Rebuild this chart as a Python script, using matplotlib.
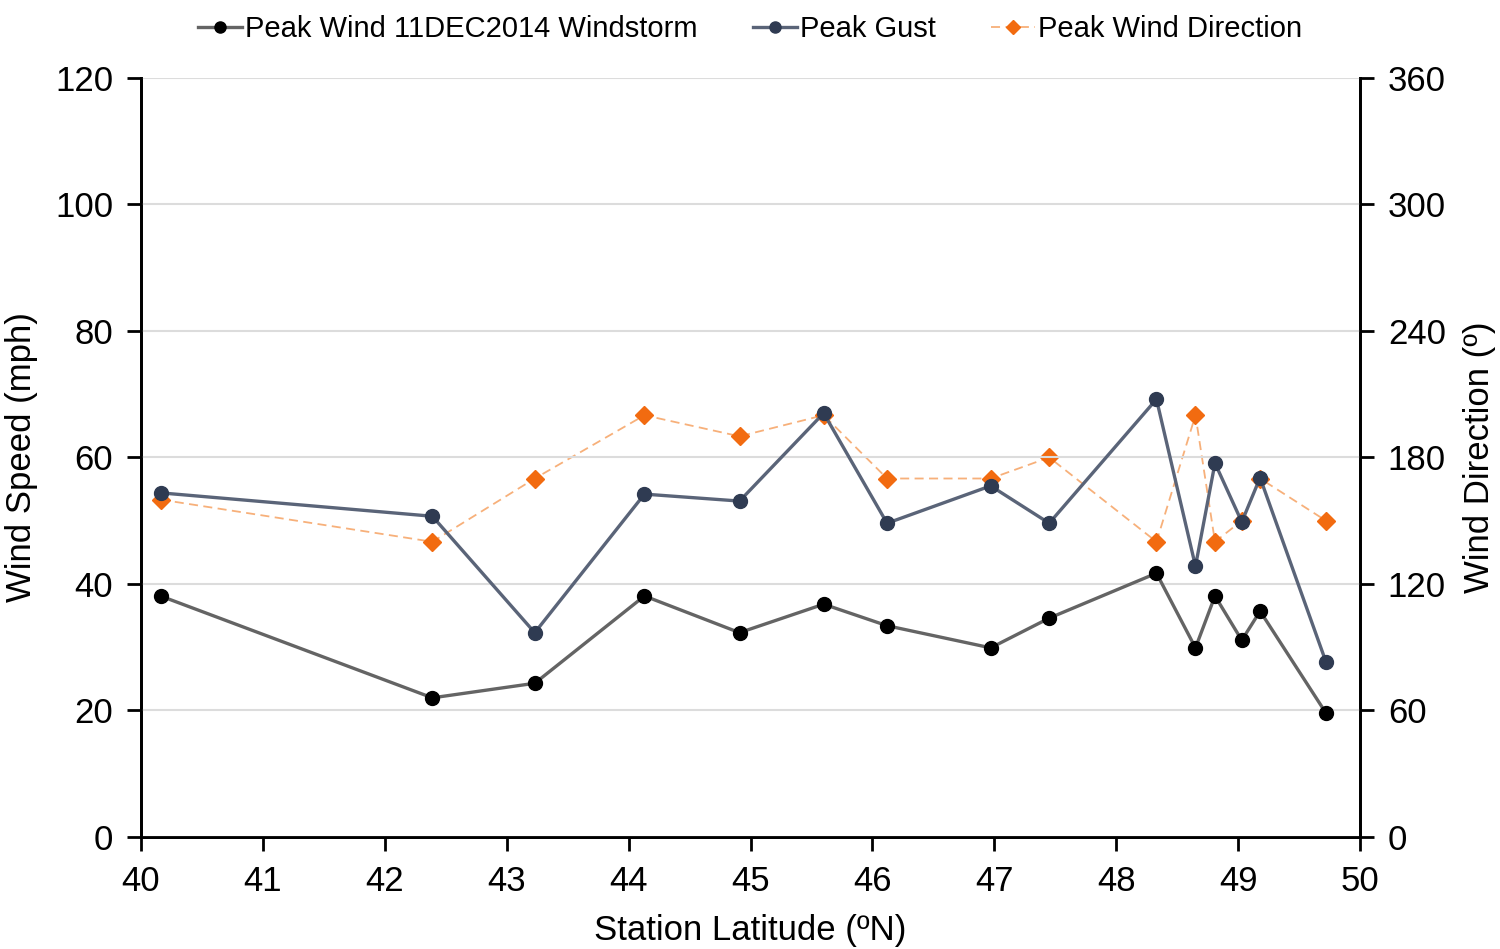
import matplotlib
matplotlib.use("Agg")
import matplotlib.pyplot as plt

plt.rcParams['font.family'] = ['Liberation Sans', 'DejaVu Sans']

# station latitudes (deg N)
latitude = [40.16, 42.39, 43.23, 44.13, 44.91, 45.60, 46.12, 46.97,
            47.45, 48.33, 48.65, 48.81, 49.03, 49.18, 49.72]
# peak wind from the 11 Dec 2014 windstorm (mph)
peak_wind = [38.1, 22.0, 24.3, 38.1, 32.3, 36.8, 33.4, 29.9,
             34.6, 41.7, 29.9, 38.1, 31.1, 35.7, 19.6]
# peak gust (mph)
peak_gust = [54.4, 50.7, 32.3, 54.2, 53.1, 67.0, 49.6, 55.5,
             49.6, 69.2, 42.8, 59.1, 49.8, 56.8, 27.7]
# direction of the peak wind (deg)
peak_dir = [160, 140, 170, 200, 190, 200, 170, 170,
            180, 140, 200, 140, 150, 170, 150]

fig = plt.figure(figsize=(15, 9.49), dpi=100)
ax = fig.add_axes([0.094, 0.118, 0.8127, 0.8])
ax2 = ax.twinx()

ax.set_zorder(ax2.get_zorder() + 1)
ax.patch.set_visible(False)

l1, = ax.plot(latitude, peak_wind, color='#646464', lw=2.4, marker='o', ms=10,
              mfc='black', mec='black', label='Peak Wind 11DEC2014 Windstorm', zorder=3)
l2, = ax.plot(latitude, peak_gust, color='#5a6478', lw=2.4, marker='o', ms=10,
              mfc='#2f3b52', mec='#2f3b52', label='Peak Gust', zorder=3)
l3, = ax2.plot(latitude, peak_dir, color='#f7b07a', lw=1.3, ls=(0, (5, 3)), marker='D', ms=9,
               mfc='#f26b10', mec='#f26b10', label='Peak Wind Direction', zorder=3)

ax.set_xlim(40, 50)
ax.set_ylim(0, 120)
ax2.set_ylim(0, 360)
ax.set_xticks(range(40, 51))
ax.set_yticks(range(0, 121, 20))
ax2.set_yticks(range(0, 361, 60))

ax.yaxis.grid(True, color='#dcdcdc', lw=1.5)
ax.set_axisbelow(True)

for a in (ax, ax2):
    a.spines['top'].set_visible(False)
    for s in ('left', 'right', 'bottom'):
        a.spines[s].set_linewidth(2)
        a.spines[s].set_color('black')
    a.tick_params(axis='both', labelsize=25, width=2, length=10, direction='out', pad=10)

ax.set_xlabel('Station Latitude (ºN)', fontsize=25, labelpad=12)
ax.set_ylabel('Wind Speed (mph)', fontsize=25, labelpad=12)
ax2.set_ylabel('Wind Direction (º)', fontsize=25, labelpad=12)

fig.legend(handles=[l1, l2, l3], loc='upper center', bbox_to_anchor=(0.5, 1.012), ncol=3,
           frameon=False, fontsize=21, handlelength=1.5, handletextpad=0.1,
           columnspacing=1.9, markerscale=0.8)

fig.savefig('out.png', dpi=100)
